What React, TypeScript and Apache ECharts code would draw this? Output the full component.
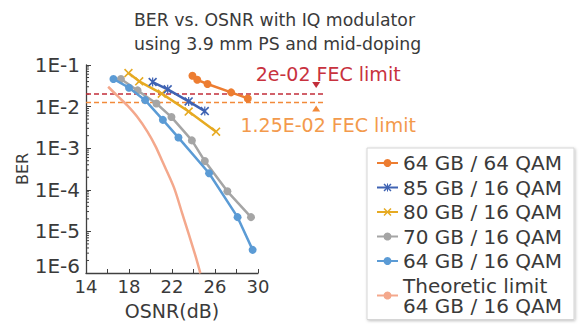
import React, { useEffect, useRef } from "react";
import * as echarts from "echarts";

// ---- data ----
const xOrange6464 = [23.9, 24.35, 25.3, 27.5, 29.05];
const yOrange6464 = [5.5e-2, 4.4e-2, 3.5e-2, 2.2e-2, 1.57e-2];

const xBlue8516 = [20.2, 21.6, 23.55, 25.05];
const yBlue8516 = [3.9e-2, 2.6e-2, 1.33e-2, 7.8e-3];

const xGold8016 = [17.95, 18.95, 21.05, 23.55, 26.1];
const yGold8016 = [6.4e-2, 4.05e-2, 2.05e-2, 7.6e-3, 2.5e-3];

const xGray7016 = [17.25, 18.8, 20.55, 21.95, 23.85, 25.05, 27.15, 29.35];
const yGray7016 = [4.6e-2, 2.45e-2, 1.19e-2, 5.6e-3, 1.54e-3, 4.9e-4, 9.2e-5, 2.2e-5];

const xLight6416 = [16.55, 18.0, 19.5, 21.15, 22.6, 25.45, 28.1, 29.5];
const yLight6416 = [4.6e-2, 2.85e-2, 1.43e-2, 4.8e-3, 1.8e-3, 2.5e-4, 2.2e-5, 3.6e-6];

const xTheory = [16.06, 16.93, 17.86, 18.78, 19.71, 20.47, 21.09, 22.17, 22.94, 24.17, 24.64];
const yTheory = [3.0e-2, 1.8e-2, 1.05e-2, 5.6e-3, 2.5e-3, 1.11e-3, 4.9e-4, 1.16e-4, 2.75e-5, 2.65e-6, 9.8e-7];

const seriesNames = [
  "64 GB / 64 QAM",
  "85 GB / 16 QAM",
  "80 GB / 16 QAM",
  "70 GB / 16 QAM",
  "64 GB / 16 QAM",
  "Theoretic limit\n64 GB / 16 QAM",
];

const fecValues = [0.02, 0.0125];
const fecLabels = ["2e-02 FEC limit", "1.25E-02 FEC limit"];

const xMin = 14;
const xMax = 30;
const yMin = 1e-6;
const yMax = 1e-1;
const fecLineEndX = 36.2;
const fecMarkerX = 35.41;

const FONT = "DejaVu Sans";
const TEXT = "#3a3a3a";
const AXIS = "#404040";

const zip = (xs: number[], ys: number[]) => xs.map((x, i) => [x, ys[i]]);

// minor ticks of the log axis (2..9 x 10^n)
const minorTickValues: number[] = [];
for (let e = -6; e < -1; e++) {
  for (let m = 2; m <= 9; m++) minorTickValues.push(m * Math.pow(10, e));
}

const xPath =
  "path://M0,1.3L1.3,0L5,3.7L8.7,0L10,1.3L6.3,5L10,8.7L8.7,10L5,6.3L1.3,10L0,8.7L3.7,5Z";
const starPath =
  "path://M0,1.3L1.3,0L5,3.7L8.7,0L10,1.3L6.3,5L10,8.7L8.7,10L5,6.3L1.3,10L0,8.7L3.7,5Z M4.35,0L5.65,0L5.65,10L4.35,10Z";

export default function App() {
  const ref = useRef<HTMLDivElement>(null);

  useEffect(() => {
    if (!ref.current) return;
    const chart = echarts.init(ref.current, null, { renderer: "svg" });

    const fecColors = ["#C22E3A", "#F28A3A"];
    const fecTextColors = ["#C8323E", "#F39A4C"];

    const lineSeries = (
      name: string,
      data: number[][],
      color: string,
      symbol: string,
      symbolSize: number,
      z: number
    ) => ({
      name,
      type: "line",
      data,
      symbol,
      symbolSize,
      showSymbol: true,
      color,
      lineStyle: { color, width: 2.5 },
      itemStyle: { color },
      z,
    });

    const option: any = {
      animation: false,
      backgroundColor: "#ffffff",
      title: {
        text: "BER vs. OSNR with IQ modulator\nusing 3.9 mm PS and mid-doping",
        left: 134,
        top: 8,
        padding: 0,
        textStyle: {
          fontFamily: FONT,
          fontSize: 17.3,
          fontWeight: "normal",
          color: TEXT,
          lineHeight: 24,
          align: "center",
        },
        textAlign: "left",
      },
      grid: { left: 86, right: 324, top: 65, bottom: 46, containLabel: false },
      legend: {
        data: seriesNames,
        orient: "vertical",
        left: 367,
        top: 148,
        height: 180,
        padding: [5, 12, 4, 9],
        itemWidth: 21,
        itemHeight: 10,
        itemGap: 4.5,
        itemTextGap: 5,
        backgroundColor: "#ffffff",
        borderColor: "#d6d6d6",
        borderWidth: 1,
        shadowColor: "rgba(0,0,0,0.25)",
        shadowBlur: 3,
        shadowOffsetX: 1,
        shadowOffsetY: 1,
        textStyle: {
          fontFamily: FONT,
          fontSize: 20,
          lineHeight: 20,
          color: TEXT,
        },
      },
      xAxis: {
        type: "value",
        min: xMin,
        max: xMax,
        interval: 2,
        name: "OSNR(dB)",
        nameLocation: "middle",
        nameGap: 28,
        nameTextStyle: { fontFamily: FONT, fontSize: 19, color: TEXT },
        axisLine: { show: true, onZero: false, lineStyle: { color: AXIS, width: 1.3 } },
        axisTick: { show: true, inside: true, length: 4, lineStyle: { color: AXIS } },
        splitLine: { show: false },
        axisLabel: {
          fontFamily: FONT,
          fontSize: 18,
          color: TEXT,
          margin: 4,
          showMinLabel: true,
          showMaxLabel: true,
          formatter: (v: number) => ((v - xMin) % 4 === 0 ? String(v) : ""),
        },
      },
      yAxis: {
        type: "log",
        logBase: 10,
        min: yMin,
        max: yMax,
        name: "BER",
        nameLocation: "middle",
        nameGap: 56,
        nameTextStyle: { fontFamily: FONT, fontSize: 16, color: TEXT },
        axisLine: { show: true, lineStyle: { color: AXIS, width: 1.3 } },
        axisTick: { show: true, inside: true, length: 5, lineStyle: { color: AXIS } },
        splitLine: { show: false },
        axisLabel: {
          fontFamily: FONT,
          fontSize: 20,
          color: TEXT,
          margin: 6,
          formatter: (v: number) => {
            const e = Math.round(Math.log10(v));
            const s = "1E" + e;
            return e === -6 ? "{low|" + s + "}" : s;
          },
          rich: {
            low: {
              fontFamily: FONT,
              fontSize: 20,
              color: TEXT,
              padding: [0, 0, 14, 0],
            },
          },
        },
      },
      series: [
        {
          type: "custom",
          name: "minorTicks",
          silent: true,
          z: 1,
          clip: false,
          data: minorTickValues.map((v) => [xMin, v]),
          renderItem: (params: any, api: any) => {
            const p = api.coord([api.value(0), api.value(1)]);
            return {
              type: "line",
              shape: { x1: p[0], y1: p[1], x2: p[0] + 3, y2: p[1] },
              style: { stroke: AXIS, lineWidth: 1 },
            };
          },
        },
        {
          type: "custom",
          name: "fec",
          silent: true,
          z: 1,
          clip: false,
          data: fecValues.map((v) => [xMin, v]),
          renderItem: (params: any, api: any) => {
            const i = params.dataIndex;
            const v = api.value(1);
            const a = api.coord([xMin, v]);
            const b = api.coord([fecLineEndX, v]);
            const m = api.coord([fecMarkerX, v]);
            const color = fecColors[i];
            const up = i === 1;
            const tri = up
              ? [
                  [m[0] - 4, m[1] + 9],
                  [m[0] + 4, m[1] + 9],
                  [m[0], m[1] + 3],
                ]
              : [
                  [m[0] - 4, m[1] - 12],
                  [m[0] + 4, m[1] - 12],
                  [m[0], m[1] - 6],
                ];
            return {
              type: "group",
              children: [
                {
                  type: "line",
                  shape: { x1: a[0], y1: a[1], x2: b[0], y2: b[1] },
                  style: { stroke: color, lineWidth: 1.5, lineDash: [5, 3] },
                },
                {
                  type: "polygon",
                  shape: { points: tri },
                  style: { fill: color },
                },
                {
                  type: "text",
                  x: m[0] + 12,
                  y: up ? m[1] + 22.5 : m[1] - 20,
                  style: {
                    text: fecLabels[i],
                    fontFamily: FONT,
                    fontSize: 19,
                    fill: fecTextColors[i],
                    align: "center",
                    verticalAlign: "middle",
                  },
                },
              ],
            };
          },
        },
        {
          name: seriesNames[5],
          type: "line",
          data: zip(xTheory, yTheory),
          symbol: "none",
          showSymbol: false,
          smooth: 0.3,
          clip: true,
          color: "#F4A88C",
          lineStyle: { color: "#F4A88C", width: 2.5 },
          itemStyle: { color: "#F4A88C" },
          z: 2,
        },
        lineSeries(seriesNames[3], zip(xGray7016, yGray7016), "#A5A5A5", "circle", 8, 3),
        lineSeries(seriesNames[4], zip(xLight6416, yLight6416), "#5B9BD5", "circle", 8, 4),
        lineSeries(seriesNames[2], zip(xGold8016, yGold8016), "#E6AA22", xPath, 9, 5),
        lineSeries(seriesNames[1], zip(xBlue8516, yBlue8516), "#3F63B3", starPath, 9, 6),
        lineSeries(seriesNames[0], zip(xOrange6464, yOrange6464), "#ED7D31", "circle", 8, 7),
      ],
    };

    chart.setOption(option);
    return () => chart.dispose();
  }, []);

  return (
    <div
      ref={ref}
      style={{ position: "fixed", left: 0, top: 0, width: 582, height: 325, background: "#fff" }}
    />
  );
}
